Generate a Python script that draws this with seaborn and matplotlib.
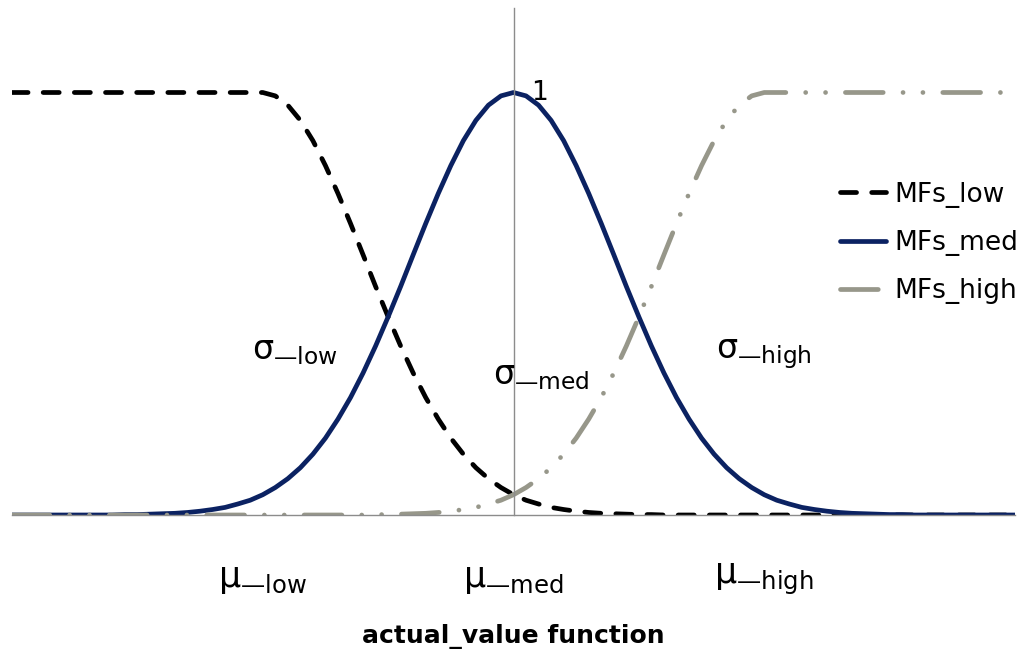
import numpy as np
import pandas as pd
import matplotlib
matplotlib.use("Agg")
import matplotlib.pyplot as plt
import seaborn as sns

# valores (x en unidades: mu_low=-1, mu_med=0, mu_high=1)
x_vals = [-2.0, -1.95, -1.9, -1.85, -1.8, -1.75, -1.7, -1.65, -1.6, -1.55,
          -1.5, -1.45, -1.4, -1.35, -1.3, -1.25, -1.2, -1.15, -1.1, -1.05,
          -1.0, -0.95, -0.9, -0.85, -0.8, -0.75, -0.7, -0.65, -0.6, -0.55,
          -0.5, -0.45, -0.4, -0.35, -0.3, -0.25, -0.2, -0.15, -0.1, -0.05,
          0.0, 0.05, 0.1, 0.15, 0.2, 0.25, 0.3, 0.35, 0.4, 0.45,
          0.5, 0.55, 0.6, 0.65, 0.7, 0.75, 0.8, 0.85, 0.9, 0.95,
          1.0, 1.05, 1.1, 1.15, 1.2, 1.25, 1.3, 1.35, 1.4, 1.45,
          1.5, 1.55, 1.6, 1.65, 1.7, 1.75, 1.8, 1.85, 1.9, 1.95, 2.0]

mfs_low = [1, 1, 1, 1, 1, 1, 1, 1, 1, 1,
           1, 1, 1, 1, 1, 1, 1, 1, 1, 1,
           1, 0.992, 0.970, 0.934, 0.886, 0.827, 0.761, 0.690, 0.616, 0.541,
           0.469, 0.400, 0.336, 0.278, 0.227, 0.182, 0.144, 0.112, 0.086, 0.065,
           0.048, 0.035, 0.026, 0.018, 0.013, 0.009, 0.006, 0.004, 0.003, 0.002,
           0.001, 0.001, 0, 0, 0, 0, 0, 0, 0, 0,
           0, 0, 0, 0, 0, 0, 0, 0, 0, 0,
           0, 0, 0, 0, 0, 0, 0, 0, 0, 0, 0]

mfs_med = [0, 0, 0, 0, 0, 0, 0, 0, 0, 0.001,
           0.001, 0.002, 0.003, 0.004, 0.006, 0.009, 0.013, 0.018, 0.026, 0.035,
           0.048, 0.065, 0.086, 0.112, 0.144, 0.182, 0.227, 0.278, 0.336, 0.400,
           0.469, 0.541, 0.616, 0.690, 0.761, 0.827, 0.886, 0.934, 0.970, 0.992,
           1.0, 0.992, 0.970, 0.934, 0.886, 0.827, 0.761, 0.690, 0.616, 0.541,
           0.469, 0.400, 0.336, 0.278, 0.227, 0.182, 0.144, 0.112, 0.086, 0.065,
           0.048, 0.035, 0.026, 0.018, 0.013, 0.009, 0.006, 0.004, 0.003, 0.002,
           0.001, 0.001, 0, 0, 0, 0, 0, 0, 0, 0, 0]

mfs_high = [0, 0, 0, 0, 0, 0, 0, 0, 0, 0,
            0, 0, 0, 0, 0, 0, 0, 0, 0, 0,
            0, 0, 0, 0, 0, 0, 0, 0, 0, 0.001,
            0.001, 0.002, 0.003, 0.004, 0.006, 0.009, 0.013, 0.018, 0.026, 0.035,
            0.048, 0.065, 0.086, 0.112, 0.144, 0.182, 0.227, 0.278, 0.336, 0.400,
            0.469, 0.541, 0.616, 0.690, 0.761, 0.827, 0.886, 0.934, 0.970, 0.992,
            1, 1, 1, 1, 1, 1, 1, 1, 1, 1,
            1, 1, 1, 1, 1, 1, 1, 1, 1, 1, 1]

tick_names = ["low", "med", "high"]

sigma_labels = ["low", "med", "high"]
sigma_x = [-0.87, 0.11, 1.0]
sigma_y = [0.39, 0.33, 0.38]

df = pd.DataFrame({"x": x_vals, "MFs_low": mfs_low, "MFs_med": mfs_med, "MFs_high": mfs_high})

sns.set_style("white")
plt.rcParams["font.family"] = ["DejaVu Sans"]
plt.rcParams["text.color"] = "black"
plt.rcParams["axes.labelcolor"] = "black"
plt.rcParams["xtick.color"] = "black"

fig = plt.figure(figsize=(10.24, 6.55), dpi=100)
ax = fig.add_axes([12 / 1024, 1 - 515 / 655, (1015 - 12) / 1024, (515 - 8) / 655])

sns.lineplot(data=df, x="x", y="MFs_low", ax=ax, color="black", lw=3.4,
             linestyle=(0, (3.4, 3.2)), dash_capstyle="round", label="MFs_low")
sns.lineplot(data=df, x="x", y="MFs_med", ax=ax, color="#0b2262", lw=3.4,
             label="MFs_med")
sns.lineplot(data=df, x="x", y="MFs_high", ax=ax, color="#97978a", lw=3.4,
             linestyle=(0, (8, 4.2, 0.01, 4.2, 0.01, 4.2)), dash_capstyle="round",
             label="MFs_high")

ax.set_xlim(-2, 2)
ax.set_ylim(0, 1.2)

for s in ["top", "right"]:
    ax.spines[s].set_visible(False)
ax.spines["left"].set_position(("data", 0))
for s in ["left", "bottom"]:
    ax.spines[s].set_color("#8c8c8c")
    ax.spines[s].set_linewidth(1)

ax.set_yticks([])
ax.set_ylabel("")
ax.text(0.07, 1.0, "1", fontsize=19, va="center", ha="left")

ax.set_xticks([-2, -1, 0, 1, 2])
ax.set_xticklabels([""] + ["μ$_{\\mathregular{—%s}}$" % n for n in tick_names] + [""],
                   fontsize=25)
ax.tick_params(axis="x", direction="out", length=6, width=1, color="#8c8c8c",
               labelcolor="black", pad=28)
ax.set_xlabel("actual_value function", fontsize=18, fontweight="bold", labelpad=19)

for lab, sx, sy in zip(sigma_labels, sigma_x, sigma_y):
    ax.text(sx, sy, "σ$_{\\mathregular{—%s}}$" % lab, fontsize=24, ha="center", va="center")

ax.legend(loc="center left", bbox_to_anchor=(840 / 1024, 1 - 243 / 655),
          bbox_transform=fig.transFigure, frameon=False, fontsize=19,
          handlelength=1.75, handletextpad=0.3, labelspacing=0.85,
          borderpad=0, borderaxespad=0)

fig.savefig("out.png", dpi=100)
